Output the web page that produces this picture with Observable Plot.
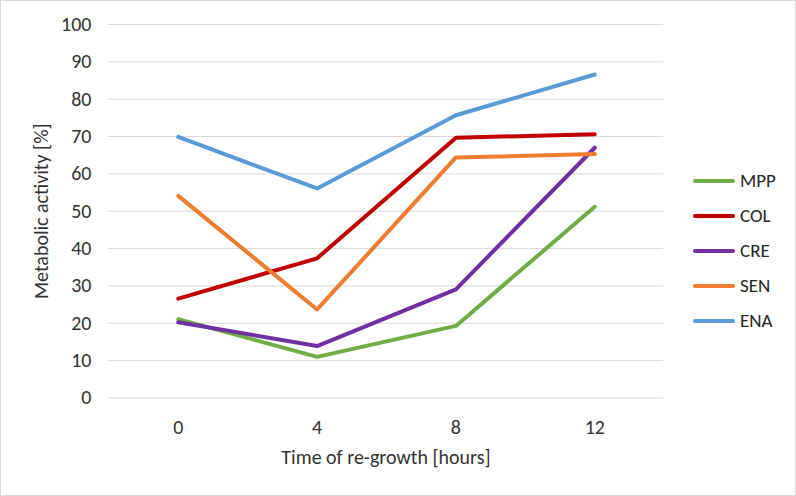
<!DOCTYPE html>
<html>
<head>
<meta charset="utf-8">
<script src="https://cdn.jsdelivr.net/npm/d3@7"></script>
<script src="https://cdn.jsdelivr.net/npm/@observablehq/plot@0.6"></script>
<style>
  html, body { margin: 0; padding: 0; background: #fff; }
  #wrap { position: relative; width: 796px; height: 496px; box-sizing: border-box; border: 1px solid #d9d9d9; overflow: hidden; font-family: Calibri, Carlito, Lato, sans-serif; }
  #chart { position: absolute; left: -1px; top: -1px; }
  #legend { position: absolute; left: 692px; top: 166px; }
  .item { height: 35px; display: flex; align-items: center; position: relative; }
  .item .sw { width: 42px; height: 4px; border-radius: 2px; margin-right: 5px; margin-top: -8px; }
  .item span { font-size: 19px; color: #262626; margin-top: -8px; }
</style>
</head>
<body>
<div id="wrap">
  <div id="chart"></div>
  <div id="legend"></div>
</div>
<script>
const times = ["0", "4", "8", "12"];
const seriesNames = ["MPP", "COL", "CRE", "SEN", "ENA"];
const MPP = [21.1, 11.0, 19.3, 51.2];
const COL = [26.6, 37.4, 69.7, 70.6];
const CRE = [20.3, 13.9, 29.1, 67.0];
const SEN = [54.1, 23.7, 64.4, 65.3];
const ENA = [69.9, 56.1, 75.7, 86.6];
const colors = ["#70AD47", "#C00000", "#7030A0", "#ED7D31", "#5B9BD5"];
const yTicks = [0, 10, 20, 30, 40, 50, 60, 70, 80, 90, 100];

const seriesValues = [MPP, COL, CRE, SEN, ENA];
const data = [];
seriesNames.forEach((s, i) => {
  times.forEach((t, j) => data.push({series: s, time: t, value: seriesValues[i][j]}));
});

const font = "Calibri, Carlito, Lato, sans-serif";
const chart = Plot.plot({
  width: 796,
  height: 496,
  marginLeft: 108,
  marginRight: 132,
  marginTop: 24,
  marginBottom: 98,
  style: {fontFamily: font, fontSize: "21px", color: "#262626", background: "transparent"},
  x: {type: "point", domain: times, padding: 0.5},
  y: {domain: [0, 100]},
  color: {domain: seriesNames, range: colors},
  marks: [
    Plot.gridY(yTicks, {stroke: "#d9d9d9", strokeOpacity: 1, strokeWidth: 1}),
    Plot.axisY(yTicks, {tickSize: 0, tickPadding: 17, fill: "#333333", fontSize: 20,
      label: "Metabolic activity [%]", labelAnchor: "center", labelArrow: "none", labelOffset: 75}),
    Plot.axisX({tickSize: 0, tickPadding: 22, fill: "#333333", fontSize: 20,
      label: "Time of re-growth [hours]", labelAnchor: "center", labelArrow: "none", labelOffset: 66}),
    Plot.line(data, {x: "time", y: "value", z: "series", stroke: "series", strokeWidth: 4, strokeLinecap: "round", strokeLinejoin: "round"})
  ]
});
document.getElementById("chart").appendChild(chart);

const legend = document.getElementById("legend");
seriesNames.forEach((s, i) => {
  const d = document.createElement("div");
  d.className = "item";
  d.innerHTML = `<div class="sw" style="background:${colors[i]}"></div><span>${s}</span>`;
  legend.appendChild(d);
});
</script>
</body>
</html>
